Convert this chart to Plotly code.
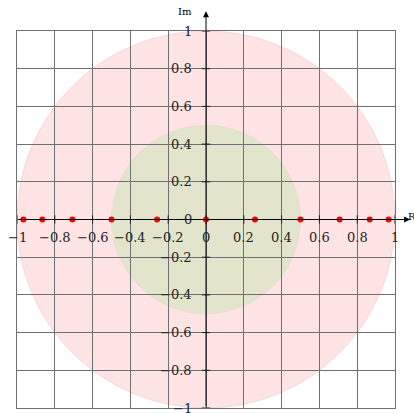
import plotly.graph_objects as go

# Points on the real axis (real parts, imaginary part zero)
point_re = [-0.966, -0.866, -0.707, -0.5, -0.259, 0.0, 0.259, 0.5, 0.707, 0.866, 0.966]
point_im = [0.0] * len(point_re)

# Disc radii
outer_radius = 1.0
inner_radius = 0.5

# Tick values and labels
tick_vals = [-1, -0.8, -0.6, -0.4, -0.2, 0, 0.2, 0.4, 0.6, 0.8, 1]
tick_text = ["−1", "−0.8", "−0.6", "−0.4", "−0.2", "0", "0.2", "0.4", "0.6", "0.8", "1"]

FONT = "DejaVu Serif"
INK = "#222222"

fig = go.Figure()

# Small tick marks on the axes
fig.add_trace(go.Scatter(
    x=tick_vals, y=[0] * len(tick_vals), mode="markers",
    marker=dict(symbol="line-ns", size=6, line=dict(width=1, color=INK)),
    hoverinfo="skip", showlegend=False, cliponaxis=False))
fig.add_trace(go.Scatter(
    x=[0] * len(tick_vals), y=tick_vals, mode="markers",
    marker=dict(symbol="line-ew", size=6, line=dict(width=1, color=INK)),
    hoverinfo="skip", showlegend=False, cliponaxis=False))

# Red points
fig.add_trace(go.Scatter(
    x=point_re, y=point_im, mode="markers",
    marker=dict(color="red", size=6),
    showlegend=False, cliponaxis=False))

# Discs
fig.add_shape(type="circle", xref="x", yref="y", layer="below",
              x0=-outer_radius, y0=-outer_radius, x1=outer_radius, y1=outer_radius,
              fillcolor="rgb(255,228,230)", line=dict(color="rgb(252,212,216)", width=1))
fig.add_shape(type="circle", xref="x", yref="y", layer="below",
              x0=-inner_radius, y0=-inner_radius, x1=inner_radius, y1=inner_radius,
              fillcolor="rgb(226,228,204)", line=dict(color="rgb(236,222,208)", width=1))

annotations = []
# Axes with arrowheads
annotations.append(dict(x=1.08, y=0, ax=-1, ay=0, xref="x", yref="y", axref="x", ayref="y",
                        text="", showarrow=True, arrowhead=2, arrowsize=1.2, arrowwidth=1,
                        arrowcolor="black", standoff=0))
annotations.append(dict(x=0, y=1.105, ax=0, ay=-1, xref="x", yref="y", axref="x", ayref="y",
                        text="", showarrow=True, arrowhead=2, arrowsize=1.2, arrowwidth=1,
                        arrowcolor="black", standoff=0))
# Axis names (paper coordinates so they stay visible outside the data range)
annotations.append(dict(x=1.030, y=0.5, xref="paper", yref="paper", text="Re", showarrow=False,
                        xanchor="left", yanchor="middle", yshift=3,
                        font=dict(family=FONT, size=10, color="black")))
annotations.append(dict(x=0.468, y=1.052, xref="paper", yref="paper", text="Im", showarrow=False,
                        xanchor="right", yanchor="middle",
                        font=dict(family=FONT, size=10, color="black")))

# Tick labels along the axes
for v, t in zip(tick_vals, tick_text):
    annotations.append(dict(x=v, y=0, xref="x", yref="y", text=t, showarrow=False,
                            xanchor="center", yanchor="middle", yshift=-18,
                            font=dict(family=FONT, size=13, color=INK)))
    annotations.append(dict(x=0, y=v, xref="x", yref="y", text=t, showarrow=False,
                            xanchor="right", yanchor="middle", xshift=-12,
                            font=dict(family=FONT, size=13, color=INK)))

fig.update_layout(
    width=414, height=414,
    margin=dict(l=17, r=19, t=31, b=6),
    paper_bgcolor="white", plot_bgcolor="rgba(0,0,0,0)",
    annotations=annotations,
    showlegend=False,
)
axis_common = dict(range=[-1, 1], dtick=0.2, tick0=-1, showgrid=True, gridcolor="#707070",
                   gridwidth=1, zeroline=False, showticklabels=False, ticks="",
                   showline=True, mirror=True, linecolor="#707070", linewidth=1,
                   fixedrange=True)
fig.update_xaxes(**axis_common)
fig.update_yaxes(**axis_common)

fig.write_html("out.html")
